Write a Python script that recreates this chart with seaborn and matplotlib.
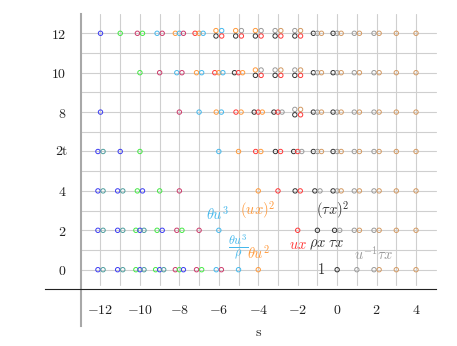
import numpy as np
import pandas as pd
import matplotlib
matplotlib.use("Agg")
import matplotlib.pyplot as plt
import seaborn as sns

# ---- data: generators per (s, 2t) cell; letters = family codes, "/" = upper/lower stack
row_0 = {-12: "BT", -11: "BT", -10: "GBT", -9: "GBT", -8: "MGB", -7: "MG", -6: "CM",
         -5: "C", -4: "O", 0: "K", 1: "A", 2: "AN", 3: "N", 4: "N"}
row_2 = {-12: "BT", -11: "BT", -10: "GBT", -9: "GB", -8: "MG", -7: "M", -6: "C",
         -2: "R", -1: "K", 0: "KA", 1: "AN", 2: "AN", 3: "N", 4: "N"}
row_4 = {-12: "BT", -11: "BT", -10: "GB", -9: "G", -8: "M", -4: "O", -3: "R",
         -2: "KR", -1: "KA", 0: "KAN", 1: "AN", 2: "AN", 3: "N", 4: "N"}
row_6 = {-12: "BT", -11: "B", -10: "G", -6: "C", -5: "O", -4: "RO", -3: "KR",
         -2: "KRA", -1: "KAN", 0: "KAN", 1: "AN", 2: "AN", 3: "N", 4: "N"}
row_8 = {-12: "B", -8: "M", -7: "C", -6: "OC", -5: "RO", -4: "KRO", -3: "KRA",
         -2: "AN/KR", -1: "KAN", 0: "KAN", 1: "AN", 2: "AN", 3: "N", 4: "N"}
row_10 = {-10: "G", -9: "M", -8: "CM", -7: "OC", -6: "ROC", -5: "KRO", -4: "OA/KR",
          -3: "AN/KR", -2: "AN/KR", -1: "KAN", 0: "KAN", 1: "AN", 2: "AN", 3: "N", 4: "N"}
row_12 = {-12: "B", -11: "G", -10: "MG", -9: "CM", -8: "OCM", -7: "ROC", -6: "OC/KR",
          -5: "OA/KR", -4: "OA/KR", -3: "AN/KR", -2: "AN/KR", -1: "KAN", 0: "KAN",
          1: "AN", 2: "AN", 3: "N", 4: "N"}
rows = {0: row_0, 2: row_2, 4: row_4, 6: row_6, 8: row_8, 10: row_10, 12: row_12}

families = {"B": "blue", "T": "teal", "G": "green", "M": "crimson", "C": "cyan",
            "O": "orange", "R": "red", "K": "black", "A": "gray", "N": "tan"}
palette = {"blue": "#3a3af2", "teal": "#4d9d9d", "green": "#44e844", "crimson": "#cc3b6b",
           "cyan": "#45b8ec", "orange": "#ff9a3c", "red": "#ff3838", "black": "#333333",
           "gray": "#9a9a9a", "tan": "#d39a63"}

x_ticks = [-12, -10, -8, -6, -4, -2, 0, 2, 4]
y_ticks = [0, 2, 4, 6, 8, 10, 12]
y_tick_labels = ["0", "2", "4", "", "8", "10", "12"]  # the "6" sits under the axis label

labels = [(r"$\theta u^3$", -6.05, 2.85, "cyan", 10.5),
          (r"$(ux)^2$", -4.05, 3.03, "orange", 10.5),
          (r"$(\tau x)^2$", -0.25, 3.03, "black", 10.5),
          (r"$\frac{\theta u^3}{\rho}$", -5.0, 1.13, "cyan", 12.5),
          (r"$\theta u^2$", -4.0, 0.88, "orange", 10.5),
          (r"$ux$", -1.97, 1.25, "red", 10.5),
          (r"$\rho x\;\tau x$", -0.55, 1.25, "black", 10.5),
          (r"$u^{-1}\tau x$", 1.87, 0.82, "gray", 10.5),
          (r"$1$", -0.8, 0.0, "black", 10.5)]

# ---- build table
recs = []
for t, row in rows.items():
    for s, code in row.items():
        parts = code.split("/")
        tiers = [0] if len(parts) == 1 else [1, -1]
        for part, tier in zip(parts, tiers):
            n = len(part)
            sp = 0.29 if tier != 0 else (0.26 if n == 2 else 0.205)
            for i, ch in enumerate(part):
                recs.append({"s": s, "t": t, "family": families[ch],
                             "x": s + (i - (n - 1) / 2) * sp,
                             "y": t + tier * 0.137})
df = pd.DataFrame(recs)

# ---- figure
sns.set_theme(style="white")
plt.rcParams["mathtext.fontset"] = "cm"
plt.rcParams["font.family"] = ["DejaVu Serif"]

fig = plt.figure(figsize=(4.57, 3.46), dpi=100)
ax = fig.add_axes([0, 0, 1, 1])
ax.set_xlim(-17.096, 6.078)
ax.set_ylim(-3.873, 13.69)
ax.patch.set_alpha(0)

# grid
for gx in range(-12, 5):
    ax.plot([gx, gx], [-0.78, 12.97], color="#cfcfcf", lw=0.8, zorder=1)
for gy in range(0, 13):
    ax.plot([-13, 5], [gy, gy], color="#cfcfcf", lw=0.8, zorder=1)

sns.scatterplot(data=df, x="x", y="y", hue="family", palette=palette, s=10,
                linewidth=0.7, legend=False, ax=ax, zorder=3)
coll = ax.collections[-1]
fc = coll.get_facecolors()
coll.set_edgecolors(fc)
coll.set_facecolors("none")

# spines as axis lines
for side in ["top", "right"]:
    ax.spines[side].set_visible(False)
ax.spines["left"].set_position(("data", -13))
ax.spines["left"].set_bounds(-2.85, 12.97)
ax.spines["left"].set_color("#a8a8a8")
ax.spines["left"].set_linewidth(1.5)
ax.spines["left"].set_zorder(2)
ax.spines["bottom"].set_position(("data", -1))
ax.spines["bottom"].set_bounds(-14.8, 5.0)
ax.spines["bottom"].set_color("#222222")
ax.spines["bottom"].set_linewidth(0.8)

ax.set_xticks(x_ticks)
ax.set_xticklabels([f"${v}$" for v in x_ticks])
ax.set_yticks(y_ticks)
ax.set_yticklabels([f"${v}$" if v else "" for v in y_tick_labels])
ax.tick_params(axis="x", length=0, pad=10, labelsize=10, labelcolor="#222222")
ax.tick_params(axis="y", length=0, pad=10.5, labelsize=10, labelcolor="#222222")
ax.set_xlabel("")
ax.set_ylabel("")

ax.text(-4.0, -3.15, r"$\mathrm{s}$", ha="center", va="center", fontsize=10, color="#222222")
ax.text(-13.95, 6.0, r"$\mathrm{2t}$", ha="center", va="center", fontsize=10,
        color="#222222")

for txt, lx, ly, fam, fs in labels:
    ax.text(lx, ly, txt, ha="center", va="center", fontsize=fs, color=palette[fam])

fig.savefig("out.png", dpi=100)
